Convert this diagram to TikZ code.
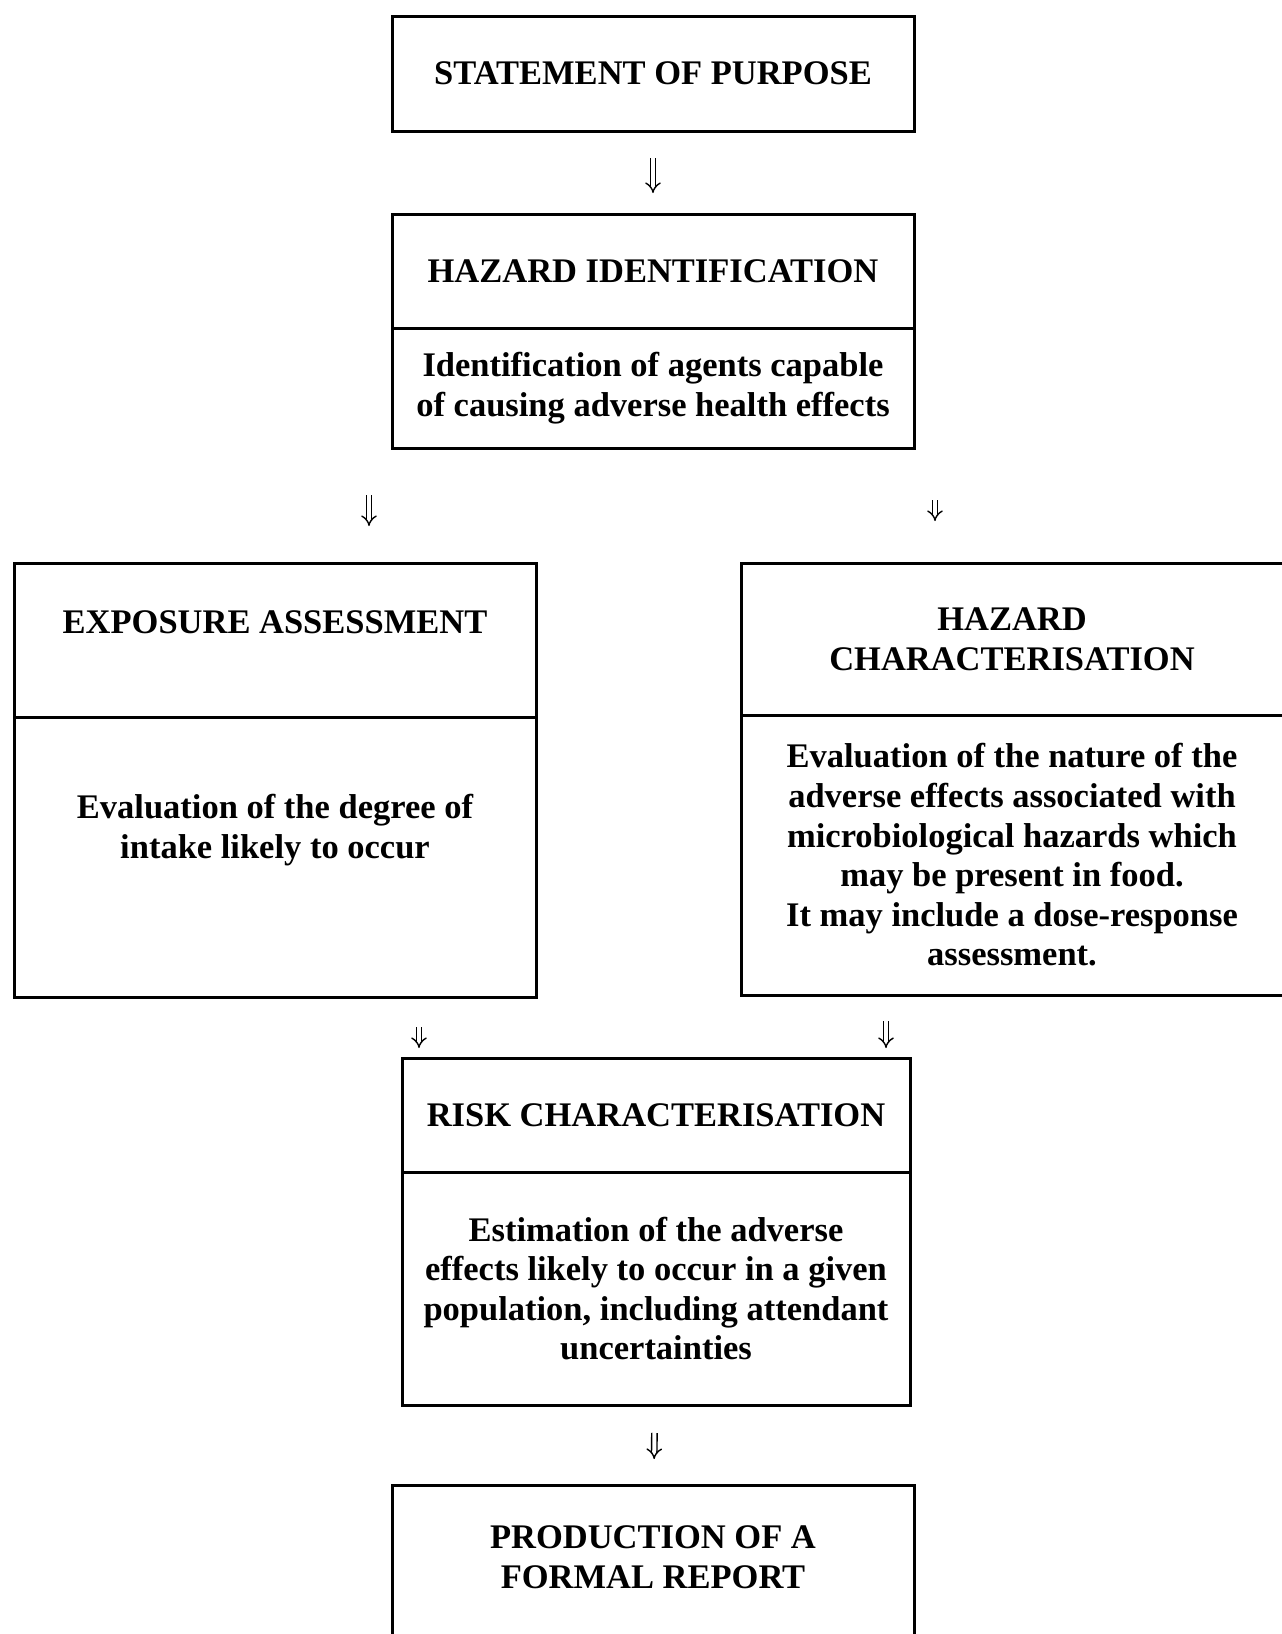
\documentclass[tikz,border=0pt]{standalone}
\usepackage{fontspec}
\setmainfont{Liberation Serif}
\usetikzlibrary{positioning, arrows.meta}
\tikzstyle{box} = [rectangle, draw, line width=3pt, inner sep=0pt, outer sep=0pt, align=center, font=\bfseries\fontsize{34.5}{39.6}\selectfont]
\tikzstyle{txt} = [inner sep=0pt, align=center, font=\bfseries\fontsize{34.5}{39.6}\selectfont]
\tikzstyle{arrow} = [double, double distance=4pt, line width=1.4pt, -{Implies}]

\begin{document}
\begin{tikzpicture}[x=1pt, y=-1pt]
  \useasboundingbox (0,0) rectangle (1282,1634);
  \clip (0,0) rectangle (1282,1634);

  \node (stmt) [box, minimum width=522pt, minimum height=115pt] at (653,73.5) {STATEMENT OF PURPOSE};

  \node (hid) [box, minimum width=522pt, minimum height=114pt] at (653,271) {HAZARD IDENTIFICATION};
  \node (hidb) [box, minimum width=522pt, minimum height=120pt, below=0pt of hid] {Identification of agents capable\\of causing adverse health effects};

  \node (expo) [box, minimum width=522pt, minimum height=154pt, label={[txt, yshift=18pt]center:EXPOSURE ASSESSMENT}] at (275,640) {};
  \node (expob) [box, minimum width=522pt, minimum height=280pt, below=0pt of expo, label={[txt, yshift=27pt]center:{Evaluation of the degree of\\intake likely to occur}}] {};

  \node (hchar) [box, minimum width=542pt, minimum height=152pt] at (1012,639) {HAZARD\\CHARACTERISATION};
  \node (hcharb) [box, minimum width=542pt, minimum height=280pt, below=0pt of hchar] {Evaluation of the nature of the\\adverse effects associated with\\microbiological hazards which\\may be present in food.\\It may include a dose-response\\assessment.};

  \node (risk) [box, minimum width=508pt, minimum height=114pt] at (656,1115) {RISK CHARACTERISATION};
  \node (riskb) [box, minimum width=508pt, minimum height=233pt, below=0pt of risk] {Estimation of the adverse\\effects likely to occur in a given\\population, including attendant\\uncertainties};

  \node (prod) [box, minimum width=522pt, minimum height=160pt, label={[txt, yshift=8pt]center:{PRODUCTION OF A\\FORMAL REPORT}}] at (653,1565) {};

  \draw [arrow, shorten <=27pt, shorten >=21pt] (stmt) -- (hid);
  \draw [arrow, shorten <=47pt, shorten >=37pt] ([xshift=-23pt]hidb.south west) -- ([xshift=-23pt]hidb.south west |- expo.north);
  \draw [arrow, shorten <=52pt, shorten >=42pt] ([xshift=21pt]hidb.south east) -- ([xshift=21pt]hidb.south east |- hchar.north);
  \draw [arrow, shorten <=30pt, shorten >=10pt] ([xshift=17pt]risk.north west |- expob.south) -- ([xshift=17pt]risk.north west);
  \draw [arrow, shorten <=26pt, shorten >=10pt] ([xshift=-24pt]risk.north east |- hcharb.south) -- ([xshift=-24pt]risk.north east);
  \draw [arrow, shorten <=28pt, shorten >=26pt] (riskb) -- (prod);
\end{tikzpicture}
\end{document}
